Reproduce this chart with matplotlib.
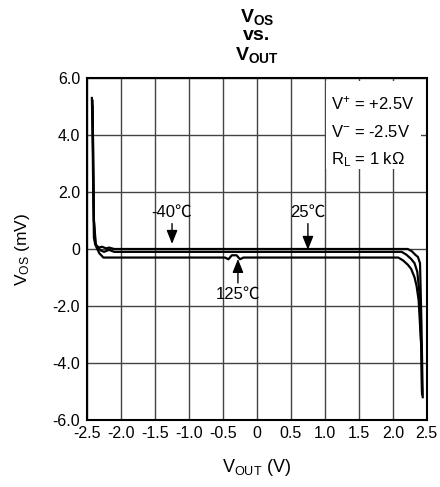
"""VOS vs. VOUT offset-voltage curves for three temperatures."""

import matplotlib
matplotlib.use("Agg")
import matplotlib.pyplot as plt
from matplotlib.patches import Rectangle

# -40 C curve (top)
x_m40 = [-2.43, -2.42, -2.41, -2.40, -2.38, -2.33, -2.28, -2.22, -2.18, -2.10,
         2.22, 2.28, 2.33, 2.37, 2.40, 2.42, 2.44]
y_m40 = [5.3, 4.0, 2.0, 0.4, 0.15, 0.05, 0.08, 0.02, 0.05, 0.0,
         0.0, -0.08, -0.2, -0.28, -0.5, -2.5, -5.2]

# 25 C curve (middle)
x_25 = [-2.42, -2.41, -2.40, -2.38, -2.34, -2.30, -2.25, -2.18, -2.10,
        2.13, 2.20, 2.27, 2.32, 2.36, 2.39, 2.42, 2.43]
y_25 = [5.2, 3.0, 1.0, 0.2, 0.05, -0.05, -0.1, -0.03, -0.1,
        -0.1, -0.2, -0.35, -0.5, -0.8, -1.5, -3.5, -5.1]

# 125 C curve (bottom)
x_125 = [-2.42, -2.41, -2.40, -2.37, -2.32, -2.26, -2.20, -0.47, -0.42, -0.37,
         -0.30, -0.25, -0.20, 2.08, 2.15, 2.22, 2.27, 2.32, 2.35, 2.38, 2.42, 2.43]
y_125 = [5.0, 3.0, 1.0, 0.1, -0.15, -0.3, -0.3, -0.3, -0.36, -0.22,
         -0.22, -0.36, -0.3, -0.3, -0.4, -0.55, -0.7, -1.0, -1.3, -1.8, -3.5, -5.0]

x_ticks = [-2.5, -2.0, -1.5, -1.0, -0.5, 0, 0.5, 1.0, 1.5, 2.0, 2.5]
x_tick_labels = ['-2.5', '-2.0', '-1.5', '-1.0', '-0.5', '0', '0.5', '1.0', '1.5', '2.0', '2.5']
y_ticks = [-6, -4, -2, 0, 2, 4, 6]
y_tick_labels = ['-6.0', '-4.0', '-2.0', '0', '2.0', '4.0', '6.0']

plt.rcParams.update({
    'font.family': ['Liberation Sans', 'Noto Sans CJK JP', 'DejaVu Sans'],
    'font.size': 10,
    'mathtext.default': 'regular',
})

fig = plt.figure(figsize=(4.4, 4.87), dpi=100)
ax = fig.add_axes([0.198, 0.1376, 0.772, 0.7022])

for xs, ys in [(x_m40, y_m40), (x_25, y_25), (x_125, y_125)]:
    ax.plot(xs, ys, color='black', lw=1.6, zorder=3)

ax.set_xlim(-2.5, 2.5)
ax.set_ylim(-6, 6)
ax.set_xticks(x_ticks)
ax.set_xticklabels(x_tick_labels)
ax.set_yticks(y_ticks)
ax.set_yticklabels(y_tick_labels)
ax.tick_params(axis='x', length=0, pad=4, labelsize=11.5)
ax.tick_params(axis='y', length=0, pad=5, labelsize=11.5)
ax.grid(True, color='#444444', lw=1.0, zorder=1)
for sp in ax.spines.values():
    sp.set_linewidth(1.5)

# white box behind the conditions text
ax.add_patch(Rectangle((1.02, 2.8), 1.4, 3.1, facecolor='white',
                       edgecolor='none', zorder=2))
ax.text(1.09, 5.1, r'V$^{+}$ = +2.5V', fontsize=12, va='center', zorder=4)
ax.text(1.09, 4.1, r'V$^{-}$ = -2.5V', fontsize=12, va='center', zorder=4)
ax.text(1.09, 3.15, r'R$_{L}$ = 1 k$\Omega$', fontsize=12, va='center', zorder=4)

arrow = dict(arrowstyle='-|>,head_length=0.55,head_width=0.22', color='black',
             lw=1.0, mutation_scale=15, shrinkA=1, shrinkB=0)
ax.annotate('-40\u2103', xy=(-1.25, 0.18), xytext=(-1.25, 1.3),
            ha='center', va='center', fontsize=12, arrowprops=arrow, zorder=4)
ax.annotate('25\u2103', xy=(0.75, -0.03), xytext=(0.75, 1.3),
            ha='center', va='center', fontsize=12, arrowprops=arrow, zorder=4)
ax.annotate('125\u2103', xy=(-0.28, -0.35), xytext=(-0.28, -1.6),
            ha='center', va='center', fontsize=12, arrowprops=arrow, zorder=4)

ax.set_title('V$_{OS}$\nvs.\nV$_{OUT}$', fontsize=14, fontweight='bold',
             linespacing=1.05, pad=13)
ax.set_xlabel('V$_{OUT}$ (V)', fontsize=13, labelpad=12)
ax.set_ylabel('V$_{OS}$ (mV)', fontsize=12.5, labelpad=15)

fig.savefig('out.png', dpi=100)
